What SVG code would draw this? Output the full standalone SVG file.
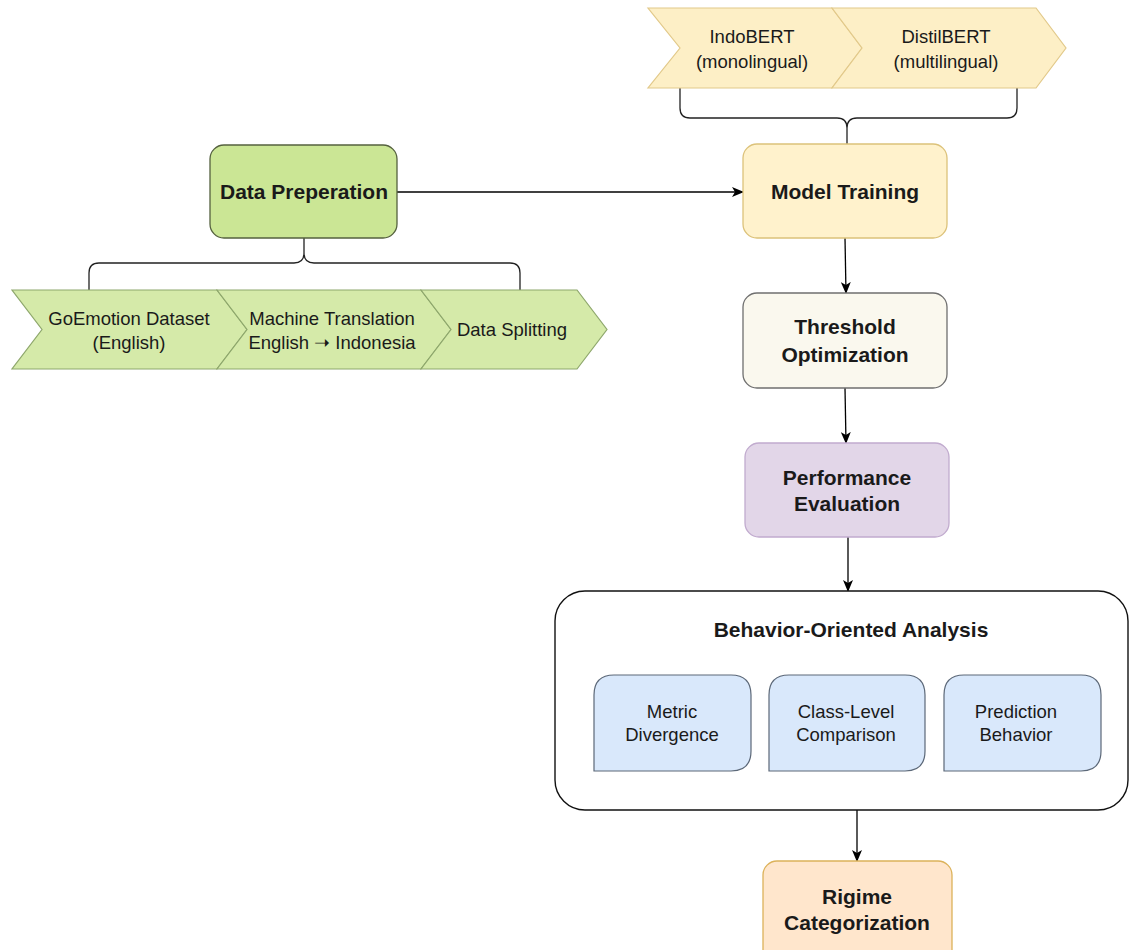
<svg xmlns="http://www.w3.org/2000/svg" width="1131" height="950" viewBox="0 0 1131 950">
<defs>
<marker id="arr" viewBox="0 0 12 10" refX="11" refY="5" markerWidth="12" markerHeight="10" markerUnits="userSpaceOnUse" orient="auto">
<path d="M0,0 L12,5 L0,10 L3,5 Z" fill="#000"/>
</marker>
<style>
text{font-family:"Liberation Sans",Arial,sans-serif;fill:#1a1a1a;text-anchor:middle}
.b{font-weight:bold;font-size:21px}
.r{font-size:18.5px}
.edge{fill:none;stroke:#000;stroke-width:1.3}
.brace{fill:none;stroke:#222;stroke-width:1.3}
.stepY{fill:#fdefc6;stroke:#e2c98a;stroke-width:1.2}
.stepG{fill:#d5eaa9;stroke:#8ea76c;stroke-width:1.2}
.sub{fill:#d9e8fb;stroke:#5c6878;stroke-width:1.2}
</style>
</defs>
<rect width="1131" height="950" fill="#fff"/>

<g id="connectors">
<path class="brace" d="M680,88 V108 Q680,118 690,118 H837 Q847,118 847,128 V145 M1017,88 V108 Q1017,118 1007,118 H857 Q847,118 847,128"/>
<path class="brace" d="M89,290 V273 Q89,263 99,263 H294 Q304,263 304,253 V238 M520,290 V273 Q520,263 510,263 H314 Q304,263 304,253"/>
<line class="edge" x1="397" y1="192" x2="743" y2="192" marker-end="url(#arr)"/>
<line class="edge" x1="845" y1="238" x2="846" y2="293" marker-end="url(#arr)"/>
<line class="edge" x1="845" y1="388" x2="846" y2="443" marker-end="url(#arr)"/>
<line class="edge" x1="848" y1="537" x2="848" y2="591" marker-end="url(#arr)"/>
<line class="edge" x1="857" y1="810" x2="857" y2="861" marker-end="url(#arr)"/>
</g>

<g id="indobert">
<path class="stepY" d="M648,8 H832 L862,48 L832,88 H648 L680,48 Z"/>
<text class="r" x="752" y="43">IndoBERT</text>
<text class="r" x="752" y="68">(monolingual)</text>
</g>
<g id="distilbert">
<path class="stepY" d="M832,8 H1036 L1066,48 L1036,88 H832 L862,48 Z"/>
<text class="r" x="946" y="43">DistilBERT</text>
<text class="r" x="946" y="68">(multilingual)</text>
</g>

<g id="data-prep">
<rect x="210" y="145" width="187" height="93" rx="14" fill="#cbe695" stroke="#55613f" stroke-width="1.3"/>
<text class="b" x="304" y="199">Data Preperation</text>
</g>

<g id="goemotion">
<path class="stepG" d="M12,290 H217 L247,329.5 L217,369 H12 L42,329.5 Z"/>
<text class="r" x="129" y="325">GoEmotion Dataset</text>
<text class="r" x="129" y="349">(English)</text>
</g>
<g id="machine-translation">
<path class="stepG" d="M217,290 H421 L451,329.5 L421,369 H217 L247,329.5 Z"/>
<text class="r" x="332" y="325">Machine Translation</text>
<text class="r" x="332" y="349">English ➝ Indonesia</text>
</g>
<g id="data-splitting">
<path class="stepG" d="M421,290 H577 L607,329.5 L577,369 H421 L451,329.5 Z"/>
<text class="r" x="512" y="336">Data Splitting</text>
</g>

<g id="model-training">
<rect x="743" y="144" width="204" height="94" rx="14" fill="#fff2cc" stroke="#dcc27a" stroke-width="1.3"/>
<text class="b" x="845" y="199">Model Training</text>
</g>

<g id="threshold">
<rect x="743" y="293" width="204" height="95" rx="14" fill="#faf8ee" stroke="#6f6f6f" stroke-width="1.3"/>
<text class="b" x="845" y="334">Threshold</text>
<text class="b" x="845" y="362">Optimization</text>
</g>

<g id="performance">
<rect x="745" y="443" width="204" height="94" rx="14" fill="#e2d6e8" stroke="#c1abce" stroke-width="1.3"/>
<text class="b" x="847" y="485">Performance</text>
<text class="b" x="847" y="511">Evaluation</text>
</g>

<g id="behavior-analysis">
<rect x="555" y="591" width="573" height="219" rx="30" fill="#fff" stroke="#111" stroke-width="1.4"/>
<text class="b" x="851" y="637">Behavior-Oriented Analysis</text>
</g>
<g id="metric-divergence">
<path class="sub" d="M594,771 V695 Q594,675 614,675 H731 Q751,675 751,695 V751 Q751,771 731,771 Z"/>
<text class="r" x="672" y="718">Metric</text>
<text class="r" x="672" y="741">Divergence</text>
</g>
<g id="class-level">
<path class="sub" d="M769,771 V695 Q769,675 789,675 H905 Q925,675 925,695 V751 Q925,771 905,771 Z"/>
<text class="r" x="846" y="718">Class-Level</text>
<text class="r" x="846" y="741">Comparison</text>
</g>
<g id="prediction-behavior">
<path class="sub" d="M944,771 V695 Q944,675 964,675 H1081 Q1101,675 1101,695 V751 Q1101,771 1081,771 Z"/>
<text class="r" x="1016" y="718">Prediction</text>
<text class="r" x="1016" y="741">Behavior</text>
</g>

<g id="rigime">
<rect x="763" y="861" width="189" height="110" rx="14" fill="#ffe6cc" stroke="#dcb25a" stroke-width="1.3"/>
<text class="b" x="857" y="904">Rigime</text>
<text class="b" x="857" y="930">Categorization</text>
</g>
</svg>
